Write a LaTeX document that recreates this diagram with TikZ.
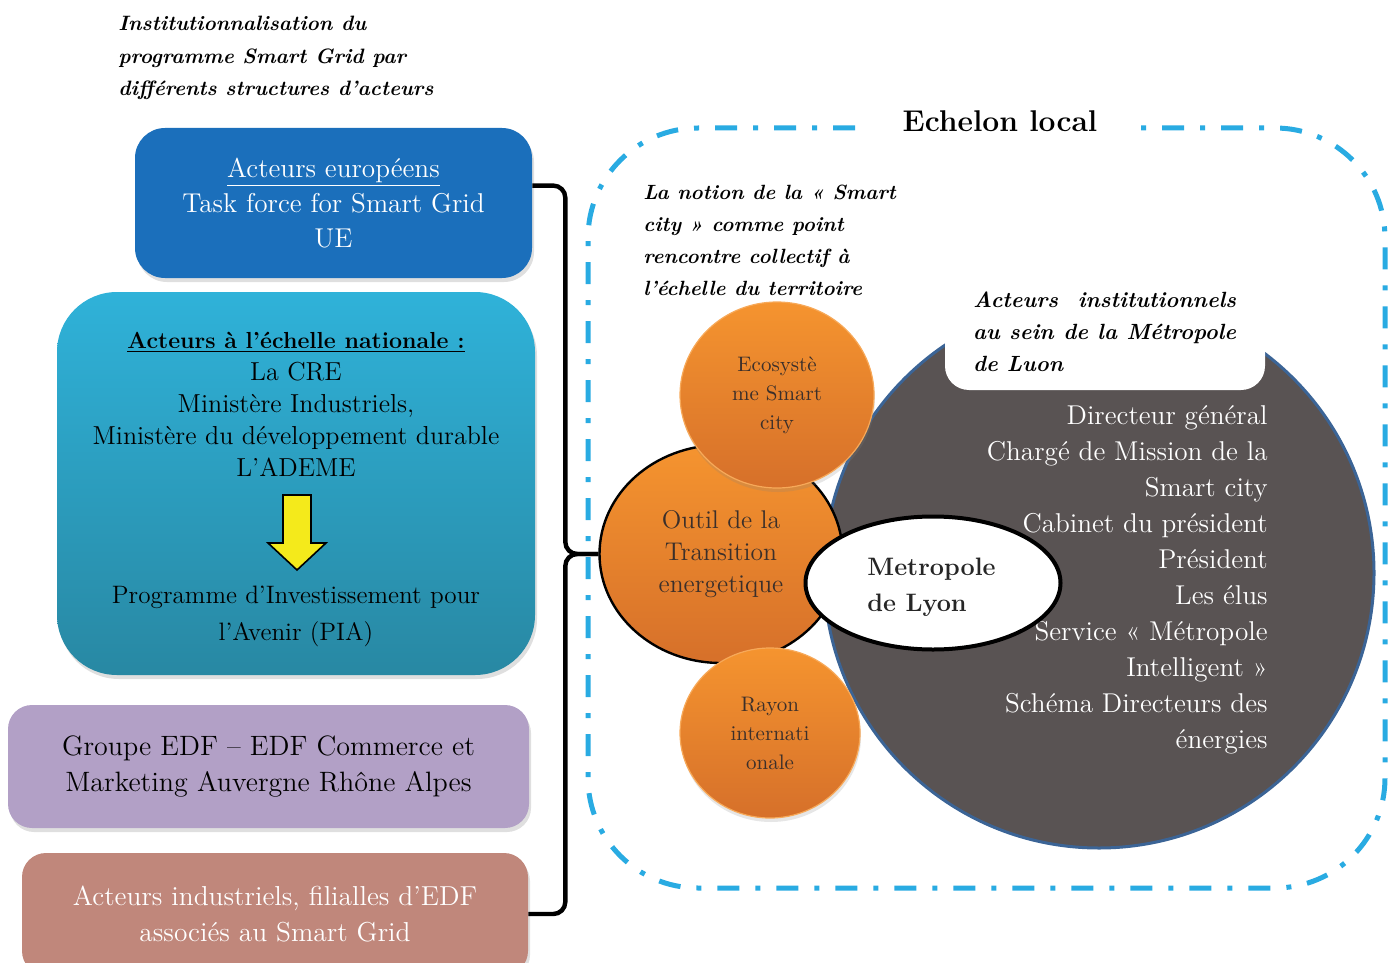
\documentclass[tikz,border=0pt]{standalone}
\usepackage{fontspec}
\usepackage{tikz}
\usetikzlibrary{shapes.geometric, shadows, calc}
\definecolor{euBlue}{HTML}{1B6FBB}
\definecolor{natTop}{HTML}{2FB2D9}
\definecolor{natBot}{HTML}{2888A3}
\definecolor{edfPurple}{HTML}{B2A0C6}
\definecolor{indRose}{HTML}{C0877B}
\definecolor{frameBlue}{HTML}{29ABE2}
\definecolor{metroGrey}{HTML}{595353}
\definecolor{metroEdge}{HTML}{3B6496}
\definecolor{orTop}{HTML}{F5942F}
\definecolor{orBot}{HTML}{D6702A}
\definecolor{orText}{HTML}{3B2F2A}
\definecolor{flecheJaune}{HTML}{F4EA1B}

\begin{document}
\begin{tikzpicture}[
    x=0.5pt, y=-0.5pt,
    bloc/.style={rounded corners=15pt, inner sep=0pt, align=center,
                 font=\fontsize{13.6}{17.5}\selectfont,
                 drop shadow={opacity=0.25, shadow xshift=1pt, shadow yshift=-2pt}},
    bulle/.style={ellipse, inner sep=0pt, align=center, text=orText,
                  top color=orTop, bottom color=orBot},
    note/.style={inner sep=0pt, align=left,
                 font=\fontsize{10.4}{16.25}\selectfont\bfseries\itshape},
    brace/.style={line width=2.2pt, rounded corners=6pt},
]
\useasboundingbox (0,0) rectangle (1397,963);

% left column
\node[note, anchor=west] (titre) at (118,58)
    {Institutionnalisation du\\programme Smart Grid par\\différents structures d’acteurs};

\node[bloc, fill=euBlue, text=white, minimum width=198.5pt, minimum height=75pt]
    (eu) at (333.5,203)
    {\underline{Acteurs européens}\\Task force for Smart Grid\\UE};

\node[bloc, rounded corners=30pt, top color=natTop, bottom color=natBot,
      minimum width=239pt, minimum height=191.5pt] (nat) at (296,483.5) {};
\node[inner sep=0pt, align=center, font=\fontsize{13}{16}\selectfont]
    (natlist) at (296,404)
    {{\fontsize{11.6}{16}\selectfont\textbf{\underline{Acteurs à l’échelle nationale :}}}\\La CRE\\
     Ministère Industriels,\\Ministère du développement durable\\L’ADEME};
\coordinate (fleche) at (297,495);
\draw[fill=flecheJaune, line width=0.8pt, line join=miter]
    (fleche) ++(-14,0) -- ++(28,0) -- ++(0,48) -- ++(15,0) -- ++(-29,27)
    -- ++(-29,-27) -- ++(15,0) -- cycle;
\node[inner sep=0pt, align=center, font=\fontsize{12.6}{18.5}\selectfont]
    (pia) at (296,616) {Programme d’Investissement pour\\l’Avenir (PIA)};

\node[bloc, rounded corners=12pt, fill=edfPurple, minimum width=260.5pt, minimum height=61.5pt,
      font=\fontsize{14}{18}\selectfont]
    (edf) at (268.5,766.5)
    {Groupe EDF – EDF Commerce et\\Marketing Auvergne Rhône Alpes};

\node[bloc, rounded corners=12pt, fill=indRose, text=white, minimum width=253pt, minimum height=61pt,
      font=\fontsize{13.7}{18}\selectfont]
    (ind) at (275,914)
    {Acteurs industriels, filialles d’EDF\\associés au Smart Grid};

% local frame
\draw[frameBlue, line width=2.5pt, rounded corners=55pt,
      dash pattern=on 11pt off 8pt on 2.5pt off 8pt]
    (855,128) -| (588,888) -| (1385,128) -- (1140,128);
\node[inner sep=0pt, font=\fontsize{15}{18}\selectfont\bfseries] (echelon) at (1000,121) {Echelon local};

\node[note, anchor=west, font=\fontsize{10.3}{16}\selectfont\bfseries\itshape] (notion) at (643,240)
    {La notion de la « Smart\\city » comme point\\rencontre collectif à\\l’échelle du territoire};

% Metropole
\node[circle, fill=metroGrey, draw=metroEdge, line width=1.5pt, minimum size=275pt, inner sep=0pt]
    (metro) at (1099,573) {};
\node[fill=white, rounded corners=12pt, minimum width=160pt, minimum height=55pt, inner sep=0pt]
    (instit) at (1105,335) {};
\node[note, font=\fontsize{11}{16}\selectfont\bfseries\itshape] at (1104.5,332)
    {\makebox[131.5pt][s]{Acteurs institutionnels}\\
     \makebox[131.5pt][s]{au sein de la Métropole}\\de Luon};
\node[inner sep=0pt, align=right, text=white, font=\fontsize{13.6}{18}\selectfont, anchor=east]
    (roles) at (1268,580)
    {Directeur général\\Chargé de Mission de la\\Smart city\\Cabinet du président\\Président\\
     Les élus\\Service « Métropole\\Intelligent »\\Schéma Directeurs des\\énergies};

\node[bulle, draw=black, line width=1.2pt, minimum width=121.5pt, minimum height=109pt,
      font=\fontsize{12.8}{16}\selectfont] (outil) at (721,554)
    {Outil de la\\Transition\\energetique};
\node[bulle, draw=orTop!80!white, line width=0.6pt, minimum width=97pt, minimum height=93pt,
      font=\fontsize{10.5}{14.5}\selectfont,
      drop shadow={opacity=0.2, shadow xshift=0.5pt, shadow yshift=-2pt}] (eco) at (777,395)
    {Ecosystè\\me Smart\\city};
\node[bulle, draw=orTop!80!white, line width=0.6pt, minimum width=90pt, minimum height=85pt,
      font=\fontsize{10.5}{14.5}\selectfont,
      drop shadow={opacity=0.2, shadow xshift=0.5pt, shadow yshift=-2pt}] (rayon) at (770,733)
    {Rayon\\internati\\onale};
\node[ellipse, fill=white, draw=black, line width=2pt, minimum width=127.5pt, minimum height=66.5pt]
    (lyon) at (933,583) {};
\node[inner sep=0pt, align=left, text=black!85, font=\fontsize{12.6}{18}\selectfont\bfseries,
      anchor=west] at (867,587) {Metropole\\de Lyon};

% bracket
\draw[brace] (eu.5) -| ($(outil.west)+(-33,0)$) -- (outil.west);
\draw[brace] (outil.west) -- ($(outil.west)+(-33,0)$) |- (ind.east);
\end{tikzpicture}
\end{document}
